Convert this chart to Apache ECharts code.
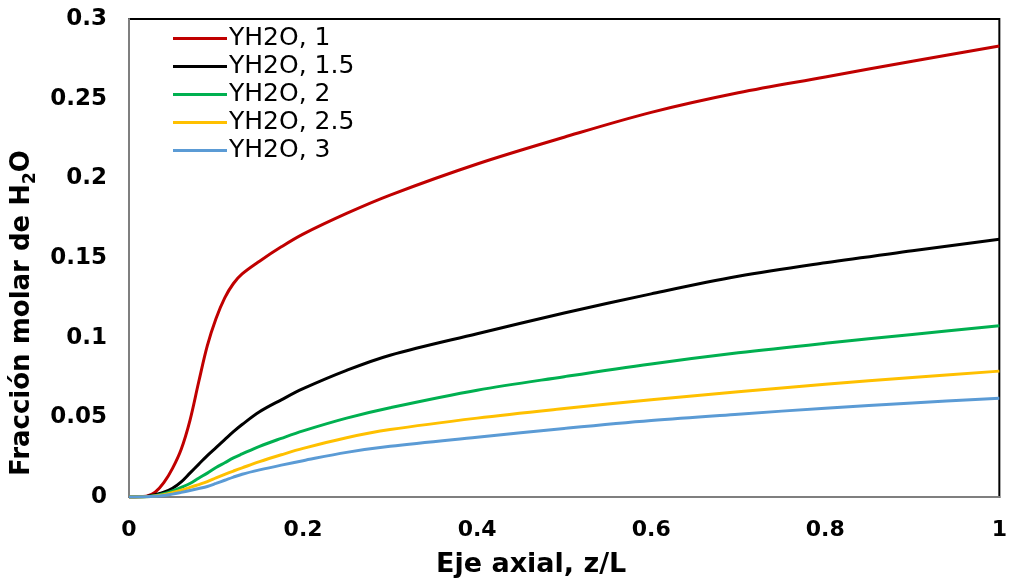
<!DOCTYPE html>
<html>
<head>
<meta charset="utf-8">
<script src="https://cdn.jsdelivr.net/npm/echarts@6/dist/echarts.min.js"></script>
<style>
  html, body { margin: 0; padding: 0; background: #fff; }
  #main { width: 1010px; height: 585px; }
</style>
</head>
<body>
<div id="main"></div>
<script>
// axial position z/L
var zPos = [0, 0.02, 0.03, 0.04, 0.05, 0.06, 0.07, 0.08, 0.09, 0.1, 0.11, 0.12, 0.13, 0.15, 0.175, 0.2, 0.25, 0.3, 0.4, 0.5, 0.6, 0.7, 0.8, 0.9, 1.0];

var names = ['YH2O, 1', 'YH2O, 1.5', 'YH2O, 2', 'YH2O, 2.5', 'YH2O, 3'];
var colors = ['#C00000', '#000000', '#00B050', '#FFC000', '#5B9BD5'];

var y1 = [0, 0.0005, 0.003, 0.009, 0.018, 0.030, 0.048, 0.072, 0.095, 0.112, 0.125, 0.134, 0.140, 0.148, 0.157, 0.165, 0.178, 0.1895, 0.209, 0.2258, 0.2414, 0.2537, 0.2636, 0.2735, 0.283];
var y15 = [0, 0.0003, 0.0015, 0.003, 0.0055, 0.0095, 0.015, 0.0205, 0.026, 0.031, 0.036, 0.041, 0.0455, 0.0535, 0.061, 0.068, 0.0795, 0.089, 0.1025, 0.1155, 0.1275, 0.1385, 0.147, 0.1545, 0.1618];
var y2 = [0, 0.0002, 0.0008, 0.002, 0.0038, 0.006, 0.0085, 0.0118, 0.015, 0.0185, 0.0215, 0.0245, 0.027, 0.0318, 0.0368, 0.0415, 0.0495, 0.056, 0.067, 0.0755, 0.0835, 0.0905, 0.0965, 0.102, 0.1075];
var y25 = [0, 0.0001, 0.0006, 0.0015, 0.0028, 0.0043, 0.006, 0.0078, 0.0097, 0.012, 0.0142, 0.0163, 0.0183, 0.0222, 0.0265, 0.0305, 0.0372, 0.0423, 0.0495, 0.0555, 0.061, 0.066, 0.0708, 0.075, 0.079];
var y3 = [0, 0.0001, 0.0004, 0.001, 0.0018, 0.0029, 0.0041, 0.0053, 0.0066, 0.0085, 0.0105, 0.0125, 0.0143, 0.017, 0.020, 0.0228, 0.028, 0.0318, 0.0375, 0.043, 0.048, 0.052, 0.0557, 0.059, 0.062];

var allY = [y1, y15, y2, y25, y3];

function pairs(xs, ys) {
  var out = [];
  for (var i = 0; i < xs.length; i++) {
    out.push([xs[i], ys[i]]);
  }
  return out;
}

var chart = echarts.init(document.getElementById('main'), null, { renderer: 'canvas' });

var series = [];
for (var k = 0; k < names.length; k++) {
  series.push({
    name: names[k],
    type: 'line',
    data: pairs(zPos, allY[k]),
    smooth: 0.35,
    symbol: 'none',
    lineStyle: { color: colors[k], width: 3 },
    itemStyle: { color: colors[k] }
  });
}

var font = 'DejaVu Sans';

chart.setOption({
  backgroundColor: '#fff',
  animation: false,
  grid: {
    left: 129, right: 9, top: 19, bottom: 88,
    show: true, borderColor: '#000', borderWidth: 2
  },
  legend: {
    orient: 'vertical',
    left: 173, top: 26, padding: 0,
    icon: 'rect',
    itemWidth: 54, itemHeight: 3, itemGap: 3,
    data: names,
    textStyle: { fontFamily: font, fontSize: 25, color: '#000', lineHeight: 24, padding: [0, 0, 0, -3] }
  },
  xAxis: {
    type: 'value', min: 0, max: 1, interval: 0.2,
    name: 'Eje axial, z/L',
    nameLocation: 'middle',
    nameGap: 54,
    nameTextStyle: { fontFamily: font, fontSize: 27, fontWeight: 'bold', color: '#000', padding: [0, 66, 0, 0] },
    axisLine: { lineStyle: { color: '#7f7f7f', width: 2 } },
    axisTick: { show: false },
    splitLine: { show: false },
    axisLabel: { fontFamily: font, fontSize: 22, fontWeight: 'bold', color: '#000', margin: 22 }
  },
  yAxis: {
    type: 'value', min: 0, max: 0.3, interval: 0.05,
    name: '{t|Fracción molar de H}{s|2}{t|O}',
    nameLocation: 'middle',
    nameGap: 90,
    nameTextStyle: {
      padding: [0, 110, 0, 0],
      rich: {
        t: { fontFamily: font, fontSize: 26, fontWeight: 'bold', color: '#000' },
        s: { fontFamily: font, fontSize: 17, fontWeight: 'bold', color: '#000', verticalAlign: 'bottom', lineHeight: 34 }
      }
    },
    axisLine: { lineStyle: { color: '#7f7f7f', width: 2 } },
    axisTick: { show: false },
    splitLine: { show: false },
    axisLabel: { fontFamily: font, fontSize: 23, fontWeight: 'bold', color: '#000', margin: 22 }
  },
  series: series
});
</script>
</body>
</html>
